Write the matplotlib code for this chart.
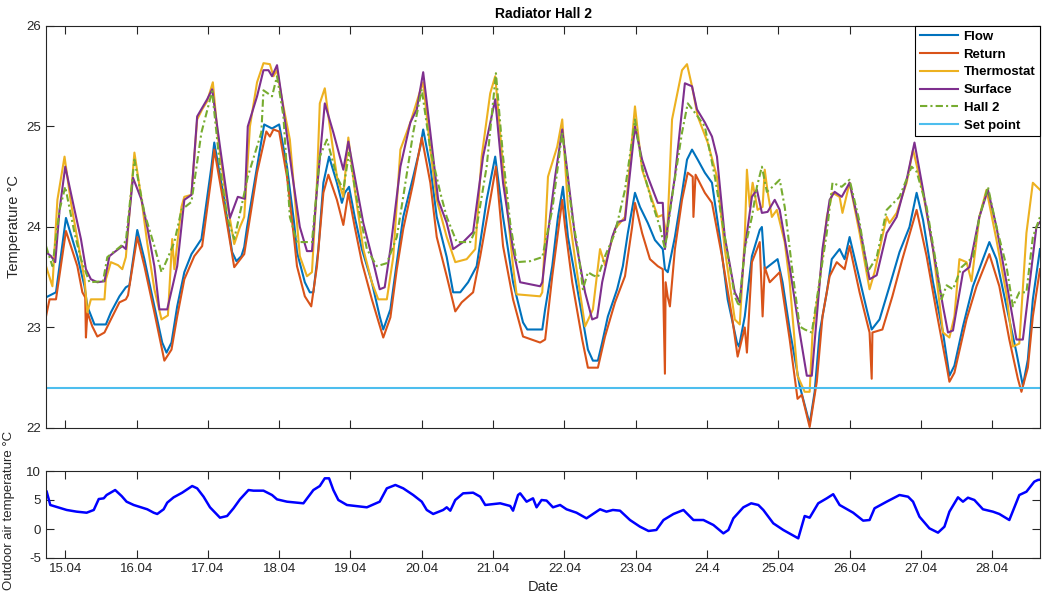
import matplotlib
matplotlib.use('Agg')
import matplotlib.pyplot as plt

plt.rcParams['font.family'] = ['Liberation Sans', 'DejaVu Sans']
plt.rcParams['axes.unicode_minus'] = False

# time axis is in days of April (15.0 = 15.04 at midnight)
flow_t = [14.73, 14.87, 15.01, 15.17, 15.27, 15.31, 15.41, 15.57, 15.64, 15.76,
          15.85, 15.90, 16.01, 16.11, 16.25, 16.36, 16.42, 16.49, 16.57, 16.67,
          16.77, 16.91, 17.05, 17.09, 17.23, 17.34, 17.40, 17.47, 17.51, 17.55,
          17.69, 17.79, 17.90, 18.00, 18.11, 18.21, 18.25, 18.36, 18.43, 18.48,
          18.55, 18.62, 18.70, 18.81, 18.88, 18.92, 18.98, 19.06, 19.16, 19.30,
          19.41, 19.46, 19.56, 19.65, 19.74, 19.88, 19.98, 20.02, 20.12, 20.21,
          20.35, 20.44, 20.54, 20.65, 20.77, 20.91, 21.03, 21.14, 21.28, 21.42,
          21.48, 21.69, 21.73, 21.83, 21.91, 21.98, 22.05, 22.15, 22.25, 22.33,
          22.40, 22.47, 22.53, 22.61, 22.74, 22.82, 22.89, 22.99, 23.06, 23.17,
          23.27, 23.38, 23.41, 23.45, 23.55, 23.65, 23.72, 23.79, 23.87, 23.97,
          24.07, 24.18, 24.29, 24.42, 24.45, 24.53, 24.63, 24.74, 24.77, 24.81,
          24.99, 25.06, 25.16, 25.30, 25.44, 25.51, 25.58, 25.68, 25.75, 25.86,
          25.93, 26.00, 26.14, 26.24, 26.31, 26.42, 26.56, 26.70, 26.84, 26.94,
          27.03, 27.17, 27.31, 27.40, 27.47, 27.59, 27.73, 27.87, 27.96, 28.06,
          28.20, 28.34, 28.43, 28.50, 28.57, 28.67]
flow = [23.30, 23.35, 24.09, 23.71, 23.41, 23.21, 23.03, 23.03, 23.15, 23.31,
        23.40, 23.42, 23.97, 23.68, 23.21, 22.85, 22.75, 22.85, 23.21, 23.55,
        23.73, 23.88, 24.60, 24.84, 24.27, 23.75, 23.66, 23.71, 23.80, 24.00,
        24.60, 25.02, 24.98, 25.02, 24.60, 24.04, 23.75, 23.45, 23.35, 23.35,
        23.78, 24.44, 24.70, 24.44, 24.24, 24.34, 24.40, 24.10, 23.78, 23.45,
        23.11, 22.98, 23.18, 23.65, 24.10, 24.50, 24.80, 24.97, 24.60, 24.10,
        23.70, 23.35, 23.35, 23.45, 23.61, 24.27, 24.70, 24.10, 23.45, 23.05,
        22.98, 22.98, 23.18, 23.61, 24.10, 24.40, 23.90, 23.51, 23.11, 22.78,
        22.67, 22.67, 22.85, 23.11, 23.38, 23.61, 23.94, 24.34, 24.20, 24.04,
        23.87, 23.78, 23.58, 23.55, 23.90, 24.34, 24.67, 24.77, 24.67, 24.54,
        24.44, 23.90, 23.28, 22.85, 22.81, 23.11, 23.71, 23.97, 24.00, 23.58,
        23.68, 23.45, 22.98, 22.42, 22.04, 22.36, 22.95, 23.35, 23.68, 23.78,
        23.68, 23.90, 23.48, 23.18, 22.98, 23.08, 23.41, 23.75, 24.00, 24.34,
        24.07, 23.45, 22.95, 22.52, 22.62, 23.01, 23.41, 23.68, 23.85, 23.68,
        23.21, 22.75, 22.42, 22.68, 23.28, 23.78]

return_t = [14.73, 14.78, 14.87, 15.01, 15.17, 15.24, 15.28, 15.29, 15.31, 15.38,
            15.45, 15.55, 15.64, 15.76, 15.85, 15.88, 16.01, 16.11, 16.25, 16.39,
            16.49, 16.57, 16.67, 16.81, 16.92, 17.05, 17.09, 17.23, 17.37, 17.51,
            17.69, 17.82, 17.87, 17.92, 18.00, 18.11, 18.21, 18.25, 18.36, 18.45,
            18.53, 18.62, 18.69, 18.81, 18.90, 18.97, 19.06, 19.16, 19.30, 19.46,
            19.56, 19.65, 19.74, 19.88, 20.00, 20.12, 20.21, 20.35, 20.47, 20.56,
            20.72, 20.82, 20.96, 21.04, 21.14, 21.28, 21.42, 21.66, 21.73, 21.83,
            21.97, 22.01, 22.11, 22.25, 22.33, 22.47, 22.57, 22.71, 22.85, 22.95,
            22.99, 23.09, 23.20, 23.31, 23.38, 23.41, 23.42, 23.45, 23.48, 23.51,
            23.55, 23.65, 23.73, 23.80, 23.81, 23.84, 23.97, 24.07, 24.21, 24.35,
            24.43, 24.53, 24.56, 24.63, 24.74, 24.78, 24.81, 24.88, 25.02, 25.16,
            25.27, 25.33, 25.44, 25.54, 25.62, 25.72, 25.82, 25.93, 26.00, 26.14,
            26.28, 26.31, 26.32, 26.46, 26.60, 26.74, 26.94, 27.08, 27.22, 27.36,
            27.40, 27.47, 27.64, 27.78, 27.96, 28.10, 28.24, 28.36, 28.41, 28.50,
            28.57, 28.67]
return_temp = [23.11, 23.28, 23.28, 23.96, 23.61, 23.35, 23.30, 22.90, 23.15, 23.01,
               22.91, 22.95, 23.08, 23.25, 23.28, 23.32, 23.90, 23.61, 23.15, 22.67,
               22.78, 23.11, 23.48, 23.71, 23.81, 24.50, 24.77, 24.20, 23.60, 23.73,
               24.54, 24.95, 24.90, 24.97, 24.95, 24.50, 23.88, 23.61, 23.31, 23.21,
               23.61, 24.34, 24.52, 24.27, 24.02, 24.34, 24.00, 23.65, 23.28, 22.90,
               23.10, 23.58, 23.98, 24.44, 24.89, 24.44, 23.90, 23.51, 23.16, 23.25,
               23.35, 23.71, 24.27, 24.60, 23.81, 23.28, 22.91, 22.85, 22.88, 23.51,
               24.27, 24.00, 23.45, 22.88, 22.60, 22.60, 22.91, 23.25, 23.51, 24.00,
               24.24, 23.94, 23.68, 23.61, 23.58, 22.54, 23.45, 23.30, 23.21, 23.45,
               23.78, 24.27, 24.54, 24.50, 24.10, 24.52, 24.34, 24.24, 23.71, 23.11,
               22.71, 23.00, 22.75, 23.65, 23.85, 23.11, 23.60, 23.45, 23.55, 22.88,
               22.29, 22.33, 22.01, 22.46, 23.11, 23.51, 23.65, 23.58, 23.81, 23.35,
               22.95, 22.49, 22.95, 22.98, 23.31, 23.68, 24.17, 23.71, 23.15, 22.62,
               22.46, 22.55, 23.08, 23.41, 23.73, 23.41, 22.88, 22.49, 22.36, 22.60,
               23.11, 23.58]

thermo_t = [14.73, 14.82, 14.89, 14.99, 15.08, 15.17, 15.27, 15.31, 15.36, 15.55,
            15.57, 15.64, 15.74, 15.80, 15.85, 15.97, 16.07, 16.15, 16.25, 16.35,
            16.44, 16.50, 16.53, 16.63, 16.67, 16.77, 16.85, 16.92, 16.99, 17.07,
            17.14, 17.24, 17.37, 17.45, 17.51, 17.59, 17.69, 17.78, 17.87, 17.92,
            17.97, 18.04, 18.15, 18.29, 18.39, 18.46, 18.53, 18.57, 18.64, 18.71,
            18.81, 18.90, 18.97, 19.06, 19.18, 19.30, 19.39, 19.51, 19.60, 19.70,
            19.84, 19.98, 20.02, 20.12, 20.21, 20.35, 20.47, 20.63, 20.75, 20.84,
            20.96, 21.03, 21.14, 21.28, 21.33, 21.66, 21.69, 21.77, 21.90, 21.97,
            22.05, 22.15, 22.29, 22.40, 22.50, 22.57, 22.71, 22.85, 22.99, 23.09,
            23.23, 23.31, 23.38, 23.44, 23.51, 23.65, 23.72, 23.79, 23.87, 24.01,
            24.14, 24.25, 24.39, 24.46, 24.53, 24.56, 24.60, 24.64, 24.71, 24.78,
            24.81, 24.85, 24.91, 24.98, 25.09, 25.16, 25.27, 25.37, 25.44, 25.48,
            25.58, 25.68, 25.76, 25.86, 25.90, 26.00, 26.14, 26.28, 26.35, 26.52,
            26.56, 26.66, 26.80, 26.89, 27.03, 27.17, 27.31, 27.40, 27.47, 27.54,
            27.64, 27.71, 27.82, 27.92, 28.06, 28.20, 28.29, 28.38, 28.48, 28.57,
            28.67]
thermostat = [23.61, 23.41, 24.27, 24.70, 24.24, 23.88, 23.48, 23.15, 23.28, 23.28,
              23.48, 23.65, 23.62, 23.58, 23.70, 24.74, 24.27, 23.84, 23.38, 23.08,
              23.12, 23.88, 23.58, 24.20, 24.30, 24.32, 25.07, 25.17, 25.25, 25.44,
              24.90, 24.37, 23.83, 24.00, 24.10, 25.00, 25.44, 25.63, 25.62, 25.50,
              25.56, 25.27, 24.87, 23.71, 23.51, 23.55, 24.44, 25.23, 25.38, 25.00,
              24.50, 24.30, 24.89, 24.37, 23.78, 23.45, 23.28, 23.28, 23.70, 24.77,
              25.04, 25.36, 25.44, 24.77, 24.27, 23.90, 23.65, 23.68, 23.78, 24.70,
              25.33, 25.50, 24.60, 23.61, 23.33, 23.31, 23.35, 24.50, 24.80, 25.07,
              24.20, 23.68, 23.01, 23.18, 23.78, 23.62, 23.98, 24.10, 25.20, 24.57,
              24.27, 24.10, 24.12, 23.90, 25.07, 25.56, 25.62, 25.40, 25.10, 24.84,
              24.50, 23.78, 23.08, 23.03, 23.90, 24.57, 24.20, 24.44, 24.17, 24.20,
              24.57, 24.35, 24.10, 24.17, 23.85, 23.45, 22.52, 22.36, 22.36, 22.95,
              23.45, 24.10, 24.34, 24.30, 24.14, 24.44, 23.94, 23.38, 23.55, 24.10,
              24.04, 24.14, 24.44, 24.77, 24.34, 23.78, 22.95, 22.90, 23.11, 23.68,
              23.65, 23.46, 24.10, 24.37, 23.87, 23.33, 22.81, 22.84, 23.94, 24.44,
              24.37]

surface_t = [14.73, 14.80, 14.86, 14.92, 15.00, 15.13, 15.22, 15.29, 15.36, 15.45,
             15.55, 15.62, 15.69, 15.80, 15.85, 15.95, 16.07, 16.15, 16.25, 16.32,
             16.43, 16.57, 16.67, 16.77, 16.85, 16.99, 17.06, 17.17, 17.31, 17.42,
             17.52, 17.56, 17.69, 17.78, 17.85, 17.90, 17.97, 18.04, 18.18, 18.29,
             18.39, 18.46, 18.53, 18.64, 18.76, 18.90, 18.97, 19.06, 19.18, 19.32,
             19.41, 19.48, 19.56, 19.70, 19.84, 19.93, 20.02, 20.12, 20.23, 20.35,
             20.44, 20.58, 20.72, 20.86, 21.03, 21.14, 21.28, 21.38, 21.66, 21.69,
             21.77, 21.87, 21.97, 22.05, 22.15, 22.29, 22.39, 22.46, 22.53, 22.67,
             22.75, 22.85, 22.99, 23.09, 23.17, 23.31, 23.38, 23.41, 23.45, 23.55,
             23.65, 23.69, 23.79, 23.86, 23.97, 24.07, 24.14, 24.25, 24.39, 24.46,
             24.53, 24.63, 24.70, 24.77, 24.85, 24.95, 25.02, 25.16, 25.30, 25.40,
             25.47, 25.54, 25.62, 25.72, 25.79, 25.89, 26.00, 26.14, 26.28, 26.38,
             26.52, 26.66, 26.80, 26.91, 27.03, 27.17, 27.31, 27.38, 27.45, 27.59,
             27.68, 27.82, 27.94, 28.06, 28.20, 28.34, 28.43, 28.52, 28.62, 28.67]
surface = [23.75, 23.71, 23.65, 24.17, 24.60, 24.17, 23.88, 23.58, 23.48, 23.45,
           23.46, 23.71, 23.75, 23.81, 23.78, 24.49, 24.27, 24.00, 23.61, 23.18,
           23.18, 23.61, 24.27, 24.32, 25.10, 25.27, 25.37, 24.80, 24.09, 24.30,
           24.28, 25.00, 25.30, 25.56, 25.56, 25.50, 25.61, 25.27, 24.54, 24.00,
           23.76, 23.76, 24.37, 25.23, 24.94, 24.57, 24.85, 24.50, 24.04, 23.65,
           23.38, 23.40, 23.78, 24.60, 25.04, 25.17, 25.54, 24.94, 24.27, 24.04,
           23.78, 23.85, 23.95, 24.70, 25.27, 24.44, 23.78, 23.45, 23.41, 23.45,
           23.94, 24.50, 24.97, 24.50, 23.90, 23.35, 23.08, 23.10, 23.45, 23.90,
           24.05, 24.07, 25.00, 24.67, 24.50, 24.24, 24.24, 23.78, 24.02, 24.50,
           25.17, 25.43, 25.40, 25.17, 25.04, 24.90, 24.70, 23.90, 23.35, 23.25,
           23.78, 24.30, 24.37, 24.14, 24.15, 24.27, 24.17, 23.60, 22.95, 22.52,
           22.52, 23.11, 23.78, 24.27, 24.35, 24.30, 24.44, 24.00, 23.48, 23.52,
           23.94, 24.10, 24.47, 24.84, 24.37, 23.78, 23.21, 22.95, 22.97, 23.55,
           23.60, 24.10, 24.37, 24.00, 23.45, 22.88, 22.88, 23.41, 24.00, 24.05]

hall_t = [14.73, 14.82, 14.92, 15.00, 15.13, 15.22, 15.34, 15.53, 15.59, 15.78,
          15.85, 15.97, 16.11, 16.25, 16.35, 16.43, 16.53, 16.63, 16.77, 16.91,
          17.06, 17.17, 17.27, 17.37, 17.47, 17.56, 17.75, 17.78, 17.90, 17.97,
          18.06, 18.15, 18.25, 18.46, 18.57, 18.67, 18.81, 18.90, 18.98, 19.09,
          19.23, 19.37, 19.51, 19.65, 19.74, 19.88, 20.00, 20.12, 20.26, 20.35,
          20.49, 20.68, 20.77, 20.91, 21.04, 21.14, 21.24, 21.33, 21.52, 21.69,
          21.83, 21.97, 22.11, 22.19, 22.26, 22.33, 22.40, 22.47, 22.57, 22.71,
          22.85, 22.99, 23.09, 23.23, 23.34, 23.41, 23.51, 23.65, 23.73, 23.87,
          23.97, 24.11, 24.25, 24.39, 24.45, 24.53, 24.63, 24.70, 24.77, 24.84,
          24.92, 25.02, 25.09, 25.20, 25.30, 25.37, 25.47, 25.54, 25.68, 25.76,
          25.89, 26.00, 26.14, 26.25, 26.38, 26.52, 26.70, 26.87, 26.94, 27.08,
          27.22, 27.29, 27.36, 27.45, 27.57, 27.73, 27.82, 27.94, 28.06, 28.20,
          28.29, 28.38, 28.48, 28.57, 28.67]
hall2 = [23.81, 23.61, 24.17, 24.40, 23.94, 23.68, 23.45, 23.46, 23.70, 23.81,
         23.86, 24.67, 24.14, 23.81, 23.55, 23.68, 23.85, 24.17, 24.25, 24.94,
         25.35, 24.60, 24.10, 23.88, 24.20, 24.50, 24.94, 25.36, 25.30, 25.50,
         25.10, 24.10, 23.85, 23.85, 24.70, 24.87, 24.50, 24.37, 24.74, 24.27,
         23.78, 23.61, 23.64, 23.90, 24.30, 24.94, 25.37, 24.77, 24.34, 24.10,
         23.85, 23.85, 24.00, 24.60, 25.53, 24.70, 24.04, 23.65, 23.66, 23.70,
         24.17, 24.94, 24.10, 23.78, 23.38, 23.55, 23.52, 23.50, 23.71, 23.94,
         24.37, 25.07, 24.60, 24.24, 24.00, 23.78, 24.30, 24.94, 25.23, 25.10,
         25.00, 24.50, 23.90, 23.31, 23.21, 23.78, 24.10, 24.40, 24.60, 24.35,
         24.40, 24.47, 24.20, 23.55, 23.01, 22.98, 22.95, 23.28, 23.94, 24.44,
         24.40, 24.47, 24.05, 23.55, 23.70, 24.17, 24.30, 24.60, 24.55, 24.20,
         23.61, 23.28, 23.42, 23.38, 23.60, 23.70, 24.10, 24.40, 24.00, 23.61,
         23.21, 23.35, 23.35, 23.90, 24.10]

set_point = 22.4

outdoor_t = [14.74, 14.79, 15.02, 15.16, 15.30, 15.40, 15.47, 15.54, 15.58, 15.70,
             15.79, 15.86, 15.96, 16.15, 16.24, 16.29, 16.38, 16.43, 16.52, 16.64,
             16.73, 16.78, 16.85, 16.94, 17.03, 17.17, 17.27, 17.36, 17.45, 17.57,
             17.64, 17.78, 17.90, 17.97, 18.11, 18.34, 18.48, 18.57, 18.64, 18.70,
             18.76, 18.83, 18.95, 19.23, 19.41, 19.51, 19.63, 19.74, 19.88, 20.00,
             20.07, 20.16, 20.30, 20.35, 20.40, 20.47, 20.58, 20.72, 20.82, 20.89,
             21.10, 21.24, 21.28, 21.35, 21.38, 21.47, 21.56, 21.61, 21.68, 21.75,
             21.84, 21.94, 22.03, 22.17, 22.31, 22.50, 22.59, 22.68, 22.78, 22.92,
             23.06, 23.18, 23.29, 23.39, 23.53, 23.67, 23.81, 23.95, 24.09, 24.23,
             24.30, 24.37, 24.51, 24.62, 24.72, 24.79, 24.93, 25.07, 25.28, 25.37,
             25.44, 25.56, 25.68, 25.77, 25.86, 26.05, 26.19, 26.28, 26.35, 26.52,
             26.70, 26.82, 26.89, 26.98, 27.12, 27.24, 27.33, 27.40, 27.52, 27.59,
             27.66, 27.75, 27.87, 28.01, 28.10, 28.24, 28.38, 28.48, 28.59, 28.64,
             28.67]
outdoor = [6.43, 4.14, 3.28, 2.99, 2.81, 3.28, 5.17, 5.29, 5.86, 6.72,
           5.69, 4.71, 4.14, 3.40, 2.81, 2.59, 3.40, 4.54, 5.46, 6.26,
           7.01, 7.41, 7.01, 5.57, 3.74, 1.95, 2.24, 3.57, 5.11, 6.72,
           6.61, 6.61, 5.86, 5.11, 4.71, 4.43, 6.72, 7.41, 8.74, 8.74,
           6.72, 5.00, 4.14, 3.74, 4.71, 7.01, 7.59, 7.01, 5.86, 4.71,
           3.28, 2.59, 3.28, 3.74, 3.16, 5.00, 6.15, 6.26, 5.57, 4.14,
           4.43, 3.97, 3.16, 5.86, 6.15, 4.71, 5.29, 3.74, 5.00, 4.90,
           3.74, 4.14, 3.40, 2.81, 1.84, 3.40, 2.99, 3.28, 3.16, 1.55,
           0.40, -0.34, -0.17, 1.55, 2.59, 3.28, 1.55, 1.55, 0.69, -0.75,
           -0.17, 1.84, 3.74, 4.43, 4.14, 3.28, 0.98, -0.17, -1.61, 2.24,
           1.95, 4.43, 5.29, 6.00, 4.14, 2.81, 1.44, 1.55, 3.57, 4.71,
           5.86, 5.57, 4.71, 2.12, 0.11, -0.63, 0.40, 2.99, 5.46, 4.71,
           5.40, 5.00, 3.40, 2.99, 2.59, 1.55, 5.86, 6.43, 8.16, 8.45,
           8.50]

day_ticks = [15, 16, 17, 18, 19, 20, 21, 22, 23, 24, 25, 26, 27, 28]
day_labels = ['15.04', '16.04', '17.04', '18.04', '19.04', '20.04', '21.04',
              '22.04', '23.04', '24.4', '25.04', '26.04', '27.04', '28.04']
x_range = (14.73, 28.67)

axis_grey = '#262626'


def style_axes(ax):
    for side in ax.spines.values():
        side.set_color(axis_grey)
        side.set_linewidth(0.8)
    ax.tick_params(direction='in', length=6, width=0.8, colors=axis_grey,
                   top=True, right=True, labelsize=9.5)
    ax.set_xlim(*x_range)
    ax.set_xticks(day_ticks)


def main():
    fig = plt.figure(figsize=(10.43, 6), dpi=100)
    ax = fig.add_axes([0.0441, 0.2867, 0.9530, 0.6700])
    ax2 = fig.add_axes([0.0441, 0.0700, 0.9530, 0.1450])

    lw = 1.5
    ax.plot(flow_t, flow, color='#0072BD', lw=lw, label='Flow')
    ax.plot(return_t, return_temp, color='#D95319', lw=lw, label='Return')
    ax.plot(thermo_t, thermostat, color='#EDB120', lw=lw, label='Thermostat')
    ax.plot(surface_t, surface, color='#7E2F8E', lw=lw, label='Surface')
    ax.plot(hall_t, hall2, color='#77AC30', lw=lw, ls=(0, (3.5, 1.5, 1, 1.5)),
            label='Hall 2')
    ax.axhline(set_point, color='#4DBEEE', lw=lw, label='Set point')

    style_axes(ax)
    ax.set_xticklabels([])
    ax.set_ylim(22, 26)
    ax.set_yticks([22, 23, 24, 25, 26])
    ax.set_ylabel('Temperature °C', fontsize=10.5, color=axis_grey)
    ax.set_title('Radiator Hall 2', fontsize=10, fontweight='bold', pad=6)

    leg = ax.legend(loc='upper right', borderaxespad=0, fancybox=False,
                    framealpha=1, edgecolor='black', handlelength=2.9,
                    labelspacing=0.42, borderpad=0.35, handletextpad=0.4,
                    prop={'weight': 'bold', 'size': 9.5})
    leg.get_frame().set_linewidth(0.8)

    ax2.plot(outdoor_t, outdoor, color='#0000FF', lw=1.8)
    style_axes(ax2)
    ax2.set_xticklabels(day_labels)
    ax2.set_ylim(-5, 10)
    ax2.set_yticks([-5, 0, 5, 10])
    ax2.set_ylabel('Outdoor air temperature °C', fontsize=9.5, color=axis_grey)
    ax2.yaxis.set_label_coords(-0.031, 0.55)
    ax2.set_xlabel('Date', fontsize=10.5, color=axis_grey)

    fig.savefig('out.png', dpi=100)


if __name__ == "__main__":
    main()
